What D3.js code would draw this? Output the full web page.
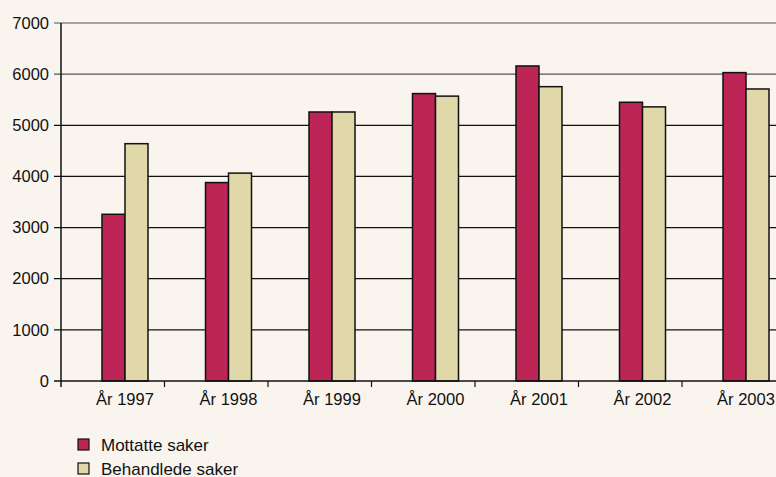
<!DOCTYPE html>
<html>
<head>
<meta charset="utf-8">
<style>
  body { margin: 0; background: #f9f5ee; }
  svg { display: block; font-family: "Liberation Sans", Arial, sans-serif; }
</style>
</head>
<body>
  <svg width="776" height="477"></svg>

  <script src="https://d3js.org/d3.v7.min.js"></script>
  <script>
    // data
    const years = ["År 1997", "År 1998", "År 1999", "År 2000", "År 2001", "År 2002", "År 2003"];
    const mottatte = [3260, 3880, 5260, 5620, 6160, 5450, 6030];
    const behandlede = [4640, 4065, 5260, 5570, 5755, 5360, 5710];
    const seriesNames = ["Mottatte saker", "Behandlede saker"];
    const seriesColors = ["#be2557", "#e0d8a8"];
    const yTicks = [0, 1000, 2000, 3000, 4000, 5000, 6000, 7000];

    const svg = d3.select("svg"),
          width = +svg.attr("width");

    const plotLeft = 61, plotBottom = 381, plotTop = 23, step = 103.5;

    // y scale: 0..7000
    const y = d3.scaleLinear().domain([0, 7000]).range([plotBottom, plotTop]);

    // x scale: one band per year (chart runs off the right edge)
    const x = d3.scaleBand().domain(years).range([plotLeft, plotLeft + step * years.length]).padding(0);

    // inner scale for the two bars in each group
    const x1 = d3.scaleBand().domain(seriesNames).range([0, 46]);
    const groupOffset = 41;

    // grid lines
    svg.append("g")
      .selectAll("line")
      .data(yTicks.filter(d => d > 0))
      .join("line")
      .attr("x1", plotLeft - 7).attr("x2", width)
      .attr("y1", d => y(d)).attr("y2", d => y(d))
      .attr("stroke", d => d >= 6000 ? "#555" : "#111")
      .attr("stroke-width", 1.2);

    // y axis labels
    svg.append("g")
      .selectAll("text")
      .data(yTicks)
      .join("text")
      .attr("x", 49)
      .attr("y", d => y(d))
      .attr("dy", "0.35em")
      .attr("text-anchor", "end")
      .attr("font-size", 16.5)
      .attr("fill", "#111")
      .text(d => d);

    // bars
    const rows = years.map((yr, i) => ({ year: yr, values: [mottatte[i], behandlede[i]] }));
    svg.append("g")
      .selectAll("g")
      .data(rows)
      .join("g")
      .attr("transform", d => `translate(${x(d.year) + groupOffset},0)`)
      .selectAll("rect")
      .data(d => d.values.map((v, j) => ({ key: seriesNames[j], value: v, color: seriesColors[j] })))
      .join("rect")
      .attr("x", d => x1(d.key))
      .attr("width", x1.bandwidth())
      .attr("y", d => y(d.value))
      .attr("height", d => y(0) - y(d.value))
      .attr("fill", d => d.color)
      .attr("stroke", "#111")
      .attr("stroke-width", 1.5);

    // axis lines
    svg.append("line")
      .attr("x1", plotLeft).attr("x2", plotLeft)
      .attr("y1", plotTop).attr("y2", plotBottom + 6)
      .attr("stroke", "#111").attr("stroke-width", 1.5);
    svg.append("line")
      .attr("x1", plotLeft - 7).attr("x2", width)
      .attr("y1", plotBottom).attr("y2", plotBottom)
      .attr("stroke", "#111").attr("stroke-width", 1.5);

    // category separator ticks
    svg.append("g")
      .selectAll("line")
      .data(years.slice(1))
      .join("line")
      .attr("x1", d => x(d)).attr("x2", d => x(d))
      .attr("y1", plotBottom).attr("y2", plotBottom + 6)
      .attr("stroke", "#111").attr("stroke-width", 1.2);

    // category labels
    svg.append("g")
      .selectAll("text")
      .data(years)
      .join("text")
      .attr("x", d => x(d) + groupOffset + 23)
      .attr("y", 405)
      .attr("text-anchor", "middle")
      .attr("font-size", 16.5)
      .attr("fill", "#111")
      .text(d => d);

    // legend
    const legend = svg.append("g")
      .selectAll("g")
      .data(seriesNames)
      .join("g")
      .attr("transform", (d, i) => `translate(78,${439 + i * 24})`);
    legend.append("rect")
      .attr("width", 11).attr("height", 11)
      .attr("fill", (d, i) => seriesColors[i])
      .attr("stroke", "#111").attr("stroke-width", 1.2);
    legend.append("text")
      .attr("x", 23).attr("y", 11.5)
      .attr("font-size", 17)
      .attr("fill", "#111")
      .text(d => d);
  </script>
</body>
</html>
